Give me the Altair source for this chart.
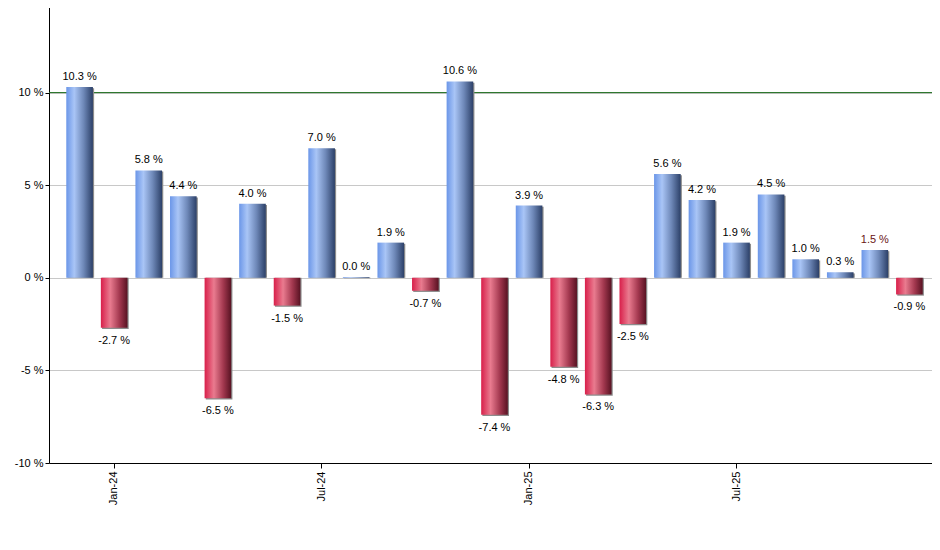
import altair as alt
import pandas as pd

months = ["Dec-23", "Jan-24", "Feb-24", "Mar-24", "Apr-24", "May-24", "Jun-24",
          "Jul-24", "Aug-24", "Sep-24", "Oct-24", "Nov-24", "Dec-24", "Jan-25",
          "Feb-25", "Mar-25", "Apr-25", "May-25", "Jun-25", "Jul-25", "Aug-25",
          "Sep-25", "Oct-25", "Nov-25", "Dec-25"]
returns = [10.3, -2.7, 5.8, 4.4, -6.5, 4.0, -1.5, 7.0, 0.04, 1.9, -0.7, 10.6,
           -7.4, 3.9, -4.8, -6.3, -2.5, 5.6, 4.2, 1.9, 4.5, 1.0, 0.3, 1.5, -0.9]
x_ticks = ["Jan-24", "Jul-24", "Jan-25", "Jul-25"]
y_ticks = [-10, -5, 0, 5, 10]
ref_level = [10]

df = pd.DataFrame({"month": months, "ret": returns})
df["label"] = df["ret"].map(lambda v: f"{v:.1f} %")

FONT = "Liberation Sans"

x_enc = alt.X("month:N", sort=months,
              scale=alt.Scale(paddingInner=0.23, paddingOuter=0.5),
              axis=alt.Axis(values=x_ticks, title=None, labelAngle=270,
                            labelAlign="right", labelBaseline="middle",
                            labelFontSize=11, labelFont=FONT, labelColor="#000",
                            domainColor="#000", tickColor="#000", tickSize=5,
                            labelPadding=3, grid=False))
y_scale = alt.Scale(domain=[-10, 15], nice=False)
y_enc = alt.Y("ret:Q", scale=y_scale,
              axis=alt.Axis(values=y_ticks, title=None,
                            labelExpr="datum.value + ' %'",
                            labelFontSize=11, labelFont=FONT, labelColor="#000",
                            domainColor="#000", tickColor="#000", tickSize=4,
                            labelPadding=2, grid=True, gridColor="#c8c8c8"))

blue = alt.Gradient(gradient="linear", x1=0, x2=1, y1=0, y2=0, stops=[
    alt.GradientStop(color="#6b96e8", offset=0),
    alt.GradientStop(color="#a9c5f6", offset=0.3),
    alt.GradientStop(color="#6e88b8", offset=0.65),
    alt.GradientStop(color="#2c4068", offset=1)])
red = alt.Gradient(gradient="linear", x1=0, x2=1, y1=0, y2=0, stops=[
    alt.GradientStop(color="#d81f4a", offset=0),
    alt.GradientStop(color="#e97b8f", offset=0.35),
    alt.GradientStop(color="#a3384f", offset=0.7),
    alt.GradientStop(color="#581222", offset=1)])

base = alt.Chart(df)

shadow = base.mark_bar(color="#8c8c8c", xOffset=1.2, yOffset=1.2).encode(
    x=x_enc, y=y_enc, y2=alt.datum(0))
pos = base.transform_filter("datum.ret >= 0").mark_bar(color=blue).encode(
    x=x_enc, y=y_enc, y2=alt.datum(0))
neg = base.transform_filter("datum.ret < 0").mark_bar(color=red).encode(
    x=x_enc, y=y_enc, y2=alt.datum(0))

rule = alt.Chart(pd.DataFrame({"lvl": ref_level})).mark_rule(
    color="#1a6a1a", strokeWidth=1).encode(y=alt.Y("lvl:Q", scale=y_scale))

txt_color = alt.condition("datum.month == 'Nov-25'", alt.value("#6a1414"), alt.value("#000"))
pos_txt = base.transform_filter("datum.ret >= 0").mark_text(
    baseline="alphabetic", dy=-7, fontSize=11, font=FONT).encode(
    x=x_enc, y=y_enc, text="label:N", color=txt_color)
neg_txt = base.transform_filter("datum.ret < 0").mark_text(
    baseline="top", dy=7, fontSize=11, font=FONT).encode(
    x=x_enc, y=y_enc, text="label:N", color=txt_color)

chart = alt.layer(rule, shadow, pos, neg, pos_txt, neg_txt).properties(
    width=891, height=463,
    autosize=alt.AutoSizeParams(type="none"),
    padding={"left": 41, "top": -8, "right": -8, "bottom": 70},
).configure_view(strokeWidth=0).configure_axis(domainWidth=1)

chart.save("out.html", embed_options={"renderer": "svg", "actions": False})
